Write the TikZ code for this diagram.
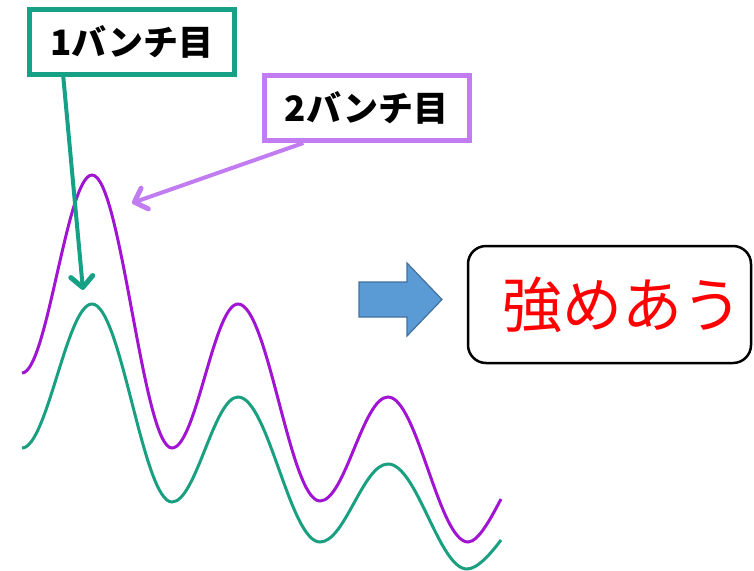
\documentclass[tikz,border=0pt]{standalone}
\usepackage{fontspec}
\setmainfont{Noto Sans CJK JP}
\usetikzlibrary{arrows.meta}

\definecolor{bunchgreen}{RGB}{22,160,133}
\definecolor{bunchpurple}{RGB}{192,124,240}
\definecolor{wavegreen}{RGB}{26,160,128}
\definecolor{wavepurple}{RGB}{160,20,210}
\definecolor{arrowfill}{RGB}{91,155,213}
\definecolor{arrowline}{RGB}{65,113,156}

\begin{document}
\begin{tikzpicture}[x=1pt,y=-1pt,
    labelbox/.style={draw=#1,line width=5pt,fill=white,minimum width=205pt,minimum height=65pt,
      font=\fontsize{35}{35}\selectfont\bfseries},
    pointer/.style={line width=4pt,-{Straight Barb[length=11pt,width=22pt,line width=5pt,round]}},
    wave/.style={line width=3pt},
    resbox/.style={draw,line width=2.5pt,rounded corners=18pt,minimum width=283pt,minimum height=117pt,
      text=red,font=\fontsize{60}{60}\selectfont}]
  \useasboundingbox (0,0) rectangle (754,570);

  % waves
  \draw[wave,wavepurple] (22,373) .. controls (47,373) and (67,175) .. (92,175)
    .. controls (121,175) and (143,448) .. (172,448)
    .. controls (196,448) and (214,304) .. (238,304)
    .. controls (268,304) and (290,501) .. (320,501)
    .. controls (345,501) and (363,397) .. (388,397)
    .. controls (417,397) and (439,542) .. (468,542)
    .. controls (479,542) and (493,514) .. (501,499);
  \draw[wave,wavegreen] (22,448) .. controls (47,448) and (67,304) .. (92,304)
    .. controls (121,304) and (143,502) .. (172,502)
    .. controls (196,502) and (214,397) .. (238,397)
    .. controls (268,397) and (290,542) .. (320,542)
    .. controls (345,542) and (363,464) .. (388,464)
    .. controls (417,464) and (439,569) .. (467,569)
    .. controls (478,569) and (492,552) .. (501,540);

  % labels
  \node[labelbox=bunchgreen] (bunch1) at (132,42) {1バンチ目};
  \node[labelbox=bunchpurple] (bunch2) at (366.5,108) {2バンチ目};
  \coordinate (tip1) at (83,290);
  \coordinate (tip2) at (132,203);
  \draw[pointer,bunchgreen] (bunch1.207) -- (tip1);
  \draw[pointer,bunchpurple] (bunch2.209) -- (tip2);

  % result
  \draw[line width=1.2pt,arrowline,fill=arrowfill] (359,282) -- (407,282) -- (407,263) -- (442,299.5)
    -- (407,336) -- (407,317) -- (359,317) -- cycle;
  \node[resbox] (result) at (609.5,304.5) {\raisebox{-12pt}{\hspace*{26pt}強めあう}};
\end{tikzpicture}
\end{document}
